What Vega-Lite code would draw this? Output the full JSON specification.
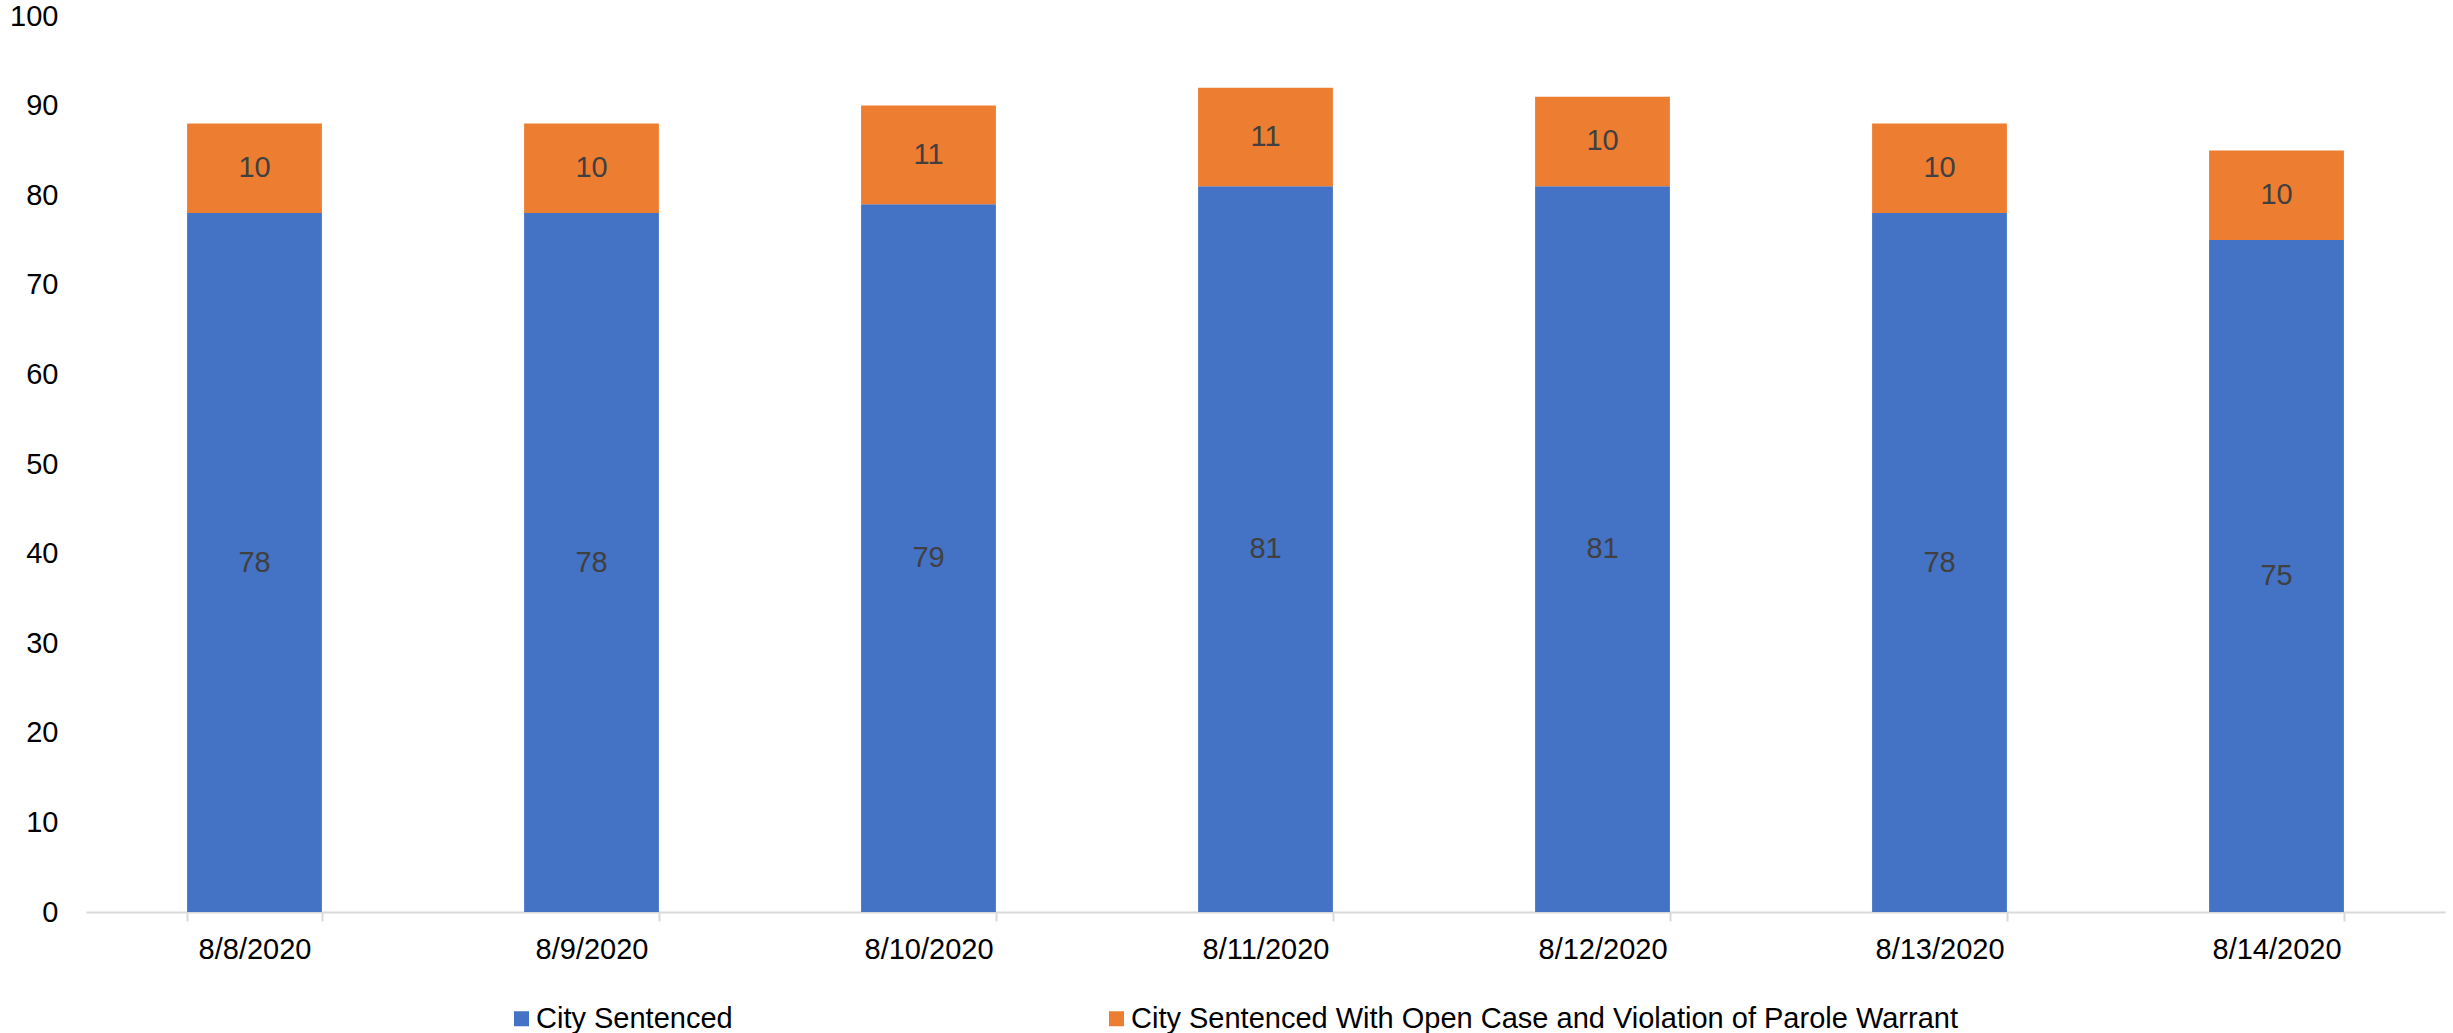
{
  "$schema": "https://vega.github.io/schema/vega-lite/v6.json",
  "autosize": {"type": "none"},
  "width": 2359,
  "height": 896,
  "padding": {"left": 86, "top": 16, "right": 8, "bottom": 121},
  "background": "white",
  "config": {
    "font": "Liberation Sans",
    "view": {"stroke": null}
  },
  "data": {
    "values": [
      {"date": "8/8/2020", "series": "City Sentenced", "value": 78},
      {"date": "8/8/2020", "series": "City Sentenced With Open Case and Violation of Parole Warrant", "value": 10},
      {"date": "8/9/2020", "series": "City Sentenced", "value": 78},
      {"date": "8/9/2020", "series": "City Sentenced With Open Case and Violation of Parole Warrant", "value": 10},
      {"date": "8/10/2020", "series": "City Sentenced", "value": 79},
      {"date": "8/10/2020", "series": "City Sentenced With Open Case and Violation of Parole Warrant", "value": 11},
      {"date": "8/11/2020", "series": "City Sentenced", "value": 81},
      {"date": "8/11/2020", "series": "City Sentenced With Open Case and Violation of Parole Warrant", "value": 11},
      {"date": "8/12/2020", "series": "City Sentenced", "value": 81},
      {"date": "8/12/2020", "series": "City Sentenced With Open Case and Violation of Parole Warrant", "value": 10},
      {"date": "8/13/2020", "series": "City Sentenced", "value": 78},
      {"date": "8/13/2020", "series": "City Sentenced With Open Case and Violation of Parole Warrant", "value": 10},
      {"date": "8/14/2020", "series": "City Sentenced", "value": 75},
      {"date": "8/14/2020", "series": "City Sentenced With Open Case and Violation of Parole Warrant", "value": 10}
    ]
  },
  "transform": [
    {"stack": "value", "groupby": ["date"], "sort": [{"field": "series", "order": "ascending"}], "as": ["y0", "y1"]},
    {"calculate": "(datum.y0 + datum.y1) / 2", "as": "ymid"}
  ],
  "encoding": {
    "x": {
      "field": "date",
      "type": "nominal",
      "sort": ["8/8/2020", "8/9/2020", "8/10/2020", "8/11/2020", "8/12/2020", "8/13/2020", "8/14/2020"],
      "scale": {"paddingInner": 0.6, "paddingOuter": 0.3},
      "axis": {
        "title": null,
        "labelAngle": 0,
        "labelFontSize": 29,
        "labelColor": "#000000",
        "labelPadding": 14,
        "domainColor": "#d9d9d9",
        "domainWidth": 2,
        "tickColor": "#d9d9d9",
        "tickWidth": 2,
        "tickSize": 9,
        "tickBand": "extent",
        "grid": false
      }
    }
  },
  "layer": [
    {
      "mark": {"type": "bar"},
      "encoding": {
        "y": {
          "field": "y0",
          "type": "quantitative",
          "scale": {"domain": [0, 100], "nice": false},
          "axis": {
            "title": null,
            "values": [0, 10, 20, 30, 40, 50, 60, 70, 80, 90, 100],
            "domain": false,
            "ticks": false,
            "grid": false,
            "labelFontSize": 29,
            "labelColor": "#000000",
            "labelPadding": 28
          }
        },
        "y2": {"field": "y1"},
        "color": {
          "field": "series",
          "type": "nominal",
          "scale": {
            "domain": ["City Sentenced", "City Sentenced With Open Case and Violation of Parole Warrant"],
            "range": ["#4472C4", "#ED7D31"]
          },
          "legend": {
            "title": null,
            "orient": "none",
            "direction": "horizontal",
            "legendX": 421,
            "legendY": 988,
            "symbolType": "square",
            "symbolSize": 225,
            "symbolStrokeWidth": 0,
            "symbolOffset": 0,
            "labelFontSize": 29,
            "labelColor": "#000000",
            "labelOffset": 0,
            "columnPadding": 369,
            "labelLimit": 2000
          }
        }
      }
    },
    {
      "mark": {"type": "text", "fontSize": 29, "color": "#404040", "baseline": "middle", "align": "center"},
      "encoding": {
        "y": {"field": "ymid", "type": "quantitative"},
        "text": {"field": "value", "type": "quantitative"}
      }
    }
  ]
}
